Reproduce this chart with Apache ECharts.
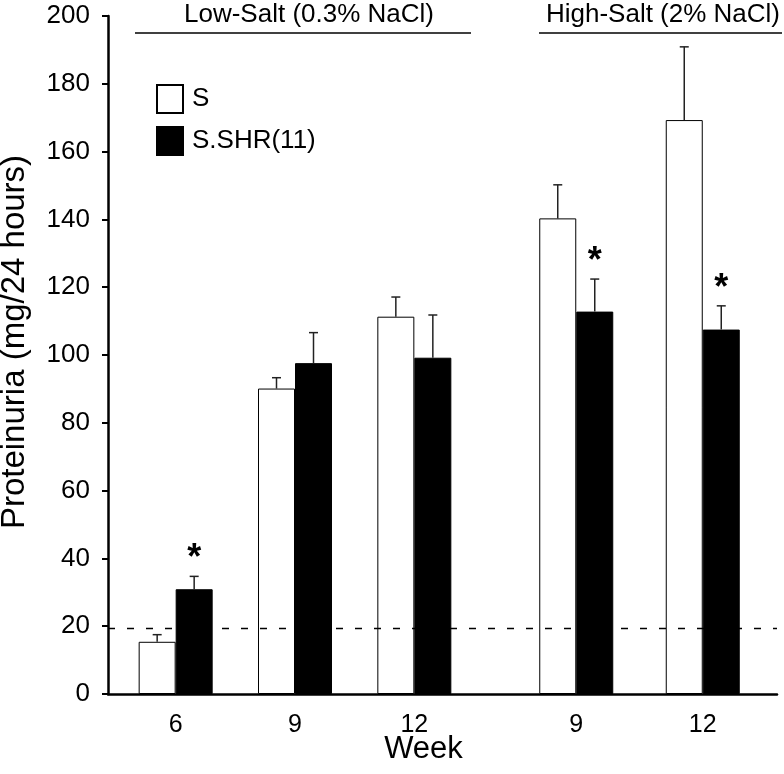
<!DOCTYPE html>
<html>
<head>
<meta charset="utf-8">
<script src="https://cdn.jsdelivr.net/npm/echarts@6/dist/echarts.min.js"></script>
<style>
html,body{margin:0;padding:0;background:#fff;}
#chart{width:784px;height:774px;}
</style>
</head>
<body>
<div id="chart"></div>
<script>
// ---- data ----
const lowWeeks = ['6', '9', '12'];
const highWeeks = ['9', '12'];
const lowS = [15.4, 90.1, 111.3];
const lowSErr = [2.1, 3.2, 5.8];
const lowSHR = [30.9, 97.6, 99.2];
const lowSHRErr = [3.8, 9.0, 12.6];
const highS = [140.3, 169.3];
const highSErr = [9.9, 21.6];
const highSHR = [112.8, 107.5];
const highSHRErr = [9.6, 7.0];
const lowSig = [1, 0, 0];
const highSig = [1, 1];
const threshold = 19.5;
const yMin = 0, yMax = 200, yStep = 20;
const seriesNames = ['S', 'S.SHR(11)'];
const headerLow = 'Low-Salt (0.3% NaCl)';
const headerHigh = 'High-Salt (2% NaCl)';
const xName = 'Week';
const yName = 'Proteinuria (mg/24 hours)';

const FONT = '"Liberation Sans", Arial, Helvetica, sans-serif';
const BAR_W = 37;

function errSeries(gi, means, errs, side, sig) {
  return {
    type: 'custom',
    xAxisIndex: gi, yAxisIndex: gi,
    z: 5, silent: true,
    data: means.map((m, i) => [i, m, errs[i], sig ? sig[i] : 0]),
    renderItem: function (params, api) {
      const base = api.coord([api.value(0), api.value(1)]);
      const top = api.coord([api.value(0), api.value(1) + api.value(2)]);
      const x = base[0] + side * BAR_W / 2;
      const st = { stroke: '#222', lineWidth: 1.5 };
      const children = [
        { type: 'line', shape: { x1: x, y1: base[1], x2: x, y2: top[1] }, style: st },
        { type: 'line', shape: { x1: x - 4.5, y1: top[1], x2: x + 4.5, y2: top[1] }, style: st }
      ];
      if (api.value(3)) {
        children.push({
          type: 'text',
          style: { text: '*', x: x, y: top[1] - 17, textAlign: 'center', textVerticalAlign: 'middle',
                   font: 'bold 36px ' + FONT, fill: '#000' }
        });
      }
      return { type: 'group', children: children };
    }
  };
}

function barPair(gi, sVals, shrVals) {
  return [
    { name: seriesNames[0], type: 'bar', xAxisIndex: gi, yAxisIndex: gi, data: sVals,
      barWidth: BAR_W, barGap: '0%',
      itemStyle: { color: '#fff', borderColor: '#000', borderWidth: 1 } },
    { name: seriesNames[1], type: 'bar', xAxisIndex: gi, yAxisIndex: gi, data: shrVals,
      barWidth: BAR_W, barGap: '0%',
      itemStyle: { color: '#000', borderColor: '#000', borderWidth: 1 } }
  ];
}

const hiddenY = (gi) => ({ type: 'value', gridIndex: gi, min: yMin, max: yMax, show: false });
const catX = (gi, cats) => ({
  type: 'category', gridIndex: gi, data: cats,
  axisLine: { show: false }, axisTick: { show: false },
  axisLabel: { fontSize: 25, fontFamily: FONT, color: '#000', margin: 19 }
});

const chart = echarts.init(document.getElementById('chart'), null, { renderer: 'canvas' });
chart.setOption({
  animation: false,
  backgroundColor: '#fff',
  textStyle: { fontFamily: FONT },
  grid: [
    { left: 116, width: 358, top: 16, bottom: 80, containLabel: false, outerBoundsMode: 'none' },
    { left: 513, width: 253, top: 16, bottom: 80, containLabel: false, outerBoundsMode: 'none' },
    { left: 108, right: 7, top: 16, bottom: 80, containLabel: false, outerBoundsMode: 'none' }
  ],
  xAxis: [
    catX(0, lowWeeks),
    catX(1, highWeeks),
    { type: 'value', gridIndex: 2, min: 0, max: 1,
      axisLine: { show: true, lineStyle: { color: '#000', width: 2.5 } },
      axisTick: { show: false }, axisLabel: { show: false }, splitLine: { show: false },
      name: xName, nameLocation: 'middle', nameGap: 40,
      nameTextStyle: { fontSize: 31, fontFamily: FONT, color: '#000', padding: [0, 38, 0, 0] } }
  ],
  yAxis: [
    hiddenY(0), hiddenY(1),
    { type: 'value', gridIndex: 2, min: yMin, max: yMax, interval: yStep,
      axisLine: { show: true, lineStyle: { color: '#000', width: 2.5 } },
      axisTick: { show: true, length: 6, lineStyle: { color: '#000', width: 2 } },
      axisLabel: { fontSize: 26, fontFamily: FONT, color: '#000', margin: 18 },
      splitLine: { show: false },
      name: yName, nameLocation: 'middle', nameGap: 77,
      nameTextStyle: { fontSize: 33, fontFamily: FONT, color: '#000', padding: [0, 0, 0, 26] } }
  ],
  legend: {
    data: seriesNames, orient: 'vertical', left: 156, top: 84,
    itemWidth: 26, itemHeight: 28, itemGap: 12, padding: 0,
    icon: 'rect',
    textStyle: { fontSize: 26, fontFamily: FONT, color: '#000', padding: [0, 0, 0, 4] }
  },
  graphic: [
    { type: 'text', x: 309, y: 15, style: { text: headerLow, font: '26px ' + FONT, fill: '#000', textAlign: 'center', textVerticalAlign: 'middle' } },
    { type: 'line', shape: { x1: 135, y1: 33, x2: 471, y2: 33 }, style: { stroke: '#000', lineWidth: 1.5 } },
    { type: 'text', x: 663, y: 15, style: { text: headerHigh, font: '26px ' + FONT, fill: '#000', textAlign: 'center', textVerticalAlign: 'middle' } },
    { type: 'line', shape: { x1: 539, y1: 33, x2: 782, y2: 33 }, style: { stroke: '#000', lineWidth: 1.5 } }
  ],
  series: [
    ...barPair(0, lowS, lowSHR),
    ...barPair(1, highS, highSHR),
    errSeries(0, lowS, lowSErr, -1, null),
    errSeries(0, lowSHR, lowSHRErr, 1, lowSig),
    errSeries(1, highS, highSErr, -1, null),
    errSeries(1, highSHR, highSHRErr, 1, highSig),
    { type: 'line', xAxisIndex: 2, yAxisIndex: 2, data: [], silent: true,
      markLine: { silent: true, symbol: ['none', 'none'], label: { show: false },
        lineStyle: { color: '#000', width: 1.4, type: [7, 12] },
        data: [{ yAxis: threshold }] } }
  ]
});
</script>
</body>
</html>
